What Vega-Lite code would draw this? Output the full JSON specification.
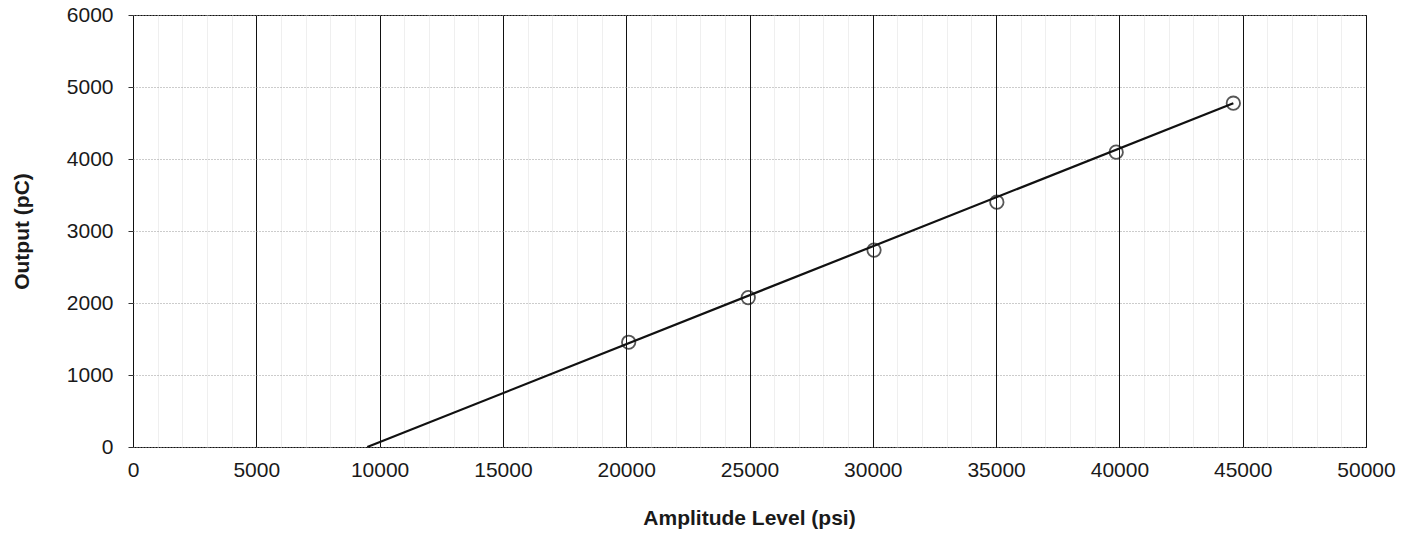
{
  "$schema": "https://vega.github.io/schema/vega-lite/v6.json",
  "autosize": {"type": "none"},
  "width": 1233,
  "height": 432,
  "padding": {"left": 133, "top": 15, "right": 47, "bottom": 88},
  "background": "white",
  "config": {
    "font": "Liberation Sans",
    "view": {"stroke": "#111", "strokeWidth": 1},
    "axis": {"labelFont": "Liberation Sans", "titleFont": "Liberation Sans", "labelColor": "#1a1a1a", "titleColor": "#1a1a1a", "domain": false}
  },
  "datasets": {
    "measured": [
      {"amplitude": 20100, "output": 1455},
      {"amplitude": 24950, "output": 2075},
      {"amplitude": 30050, "output": 2735},
      {"amplitude": 35030, "output": 3400},
      {"amplitude": 39870, "output": 4095},
      {"amplitude": 44620, "output": 4775}
    ],
    "fit": [
      {"amplitude": 9500, "output": 0},
      {"amplitude": 44620, "output": 4775}
    ]
  },
  "encoding": {
    "x": {
      "field": "amplitude", "type": "quantitative",
      "scale": {"domain": [0, 50000], "nice": false},
      "axis": {
        "title": "Amplitude Level (psi)",
        "titleFontSize": 21, "titleFontWeight": "bold", "titleX": 616, "titleY": 60,
        "labelFontSize": 21, "labelPadding": 12, "labelOverlap": false, "labelBound": false, "labelFlush": false,
        "ticks": false,
        "values": [0,1000,2000,3000,4000,5000,6000,7000,8000,9000,10000,11000,12000,13000,14000,15000,16000,17000,18000,19000,20000,21000,22000,23000,24000,25000,26000,27000,28000,29000,30000,31000,32000,33000,34000,35000,36000,37000,38000,39000,40000,41000,42000,43000,44000,45000,46000,47000,48000,49000,50000],
        "labelExpr": "(datum.value / 5000) == floor(datum.value / 5000) ? datum.label : ''",
        "format": "d",
        "grid": true,
        "gridColor": {"condition": {"test": "(datum.value / 5000) == floor(datum.value / 5000)", "value": "#111"}, "value": "#efefef"},
        "gridOpacity": 1
      }
    },
    "y": {
      "field": "output", "type": "quantitative",
      "scale": {"domain": [0, 6000], "nice": false},
      "axis": {
        "title": "Output (pC)",
        "titleFontSize": 21, "titleFontWeight": "bold", "titleX": -101, "titleY": 216, "titleAngle": 270, "titleBaseline": "bottom",
        "labelFontSize": 21, "labelPadding": 15,
        "values": [0,1000,2000,3000,4000,5000,6000],
        "format": "d",
        "ticks": true, "tickSize": 5, "tickColor": "#333",
        "grid": true, "gridColor": "#999", "gridDash": [1, 2], "gridOpacity": 1
      }
    }
  },
  "layer": [
    {
      "data": {"name": "fit"},
      "mark": {"type": "line", "color": "#111", "strokeWidth": 2.2}
    },
    {
      "data": {"name": "measured"},
      "mark": {"type": "point", "shape": "circle", "filled": false, "stroke": "#111", "strokeWidth": 1.8, "size": 180}
    }
  ]
}
